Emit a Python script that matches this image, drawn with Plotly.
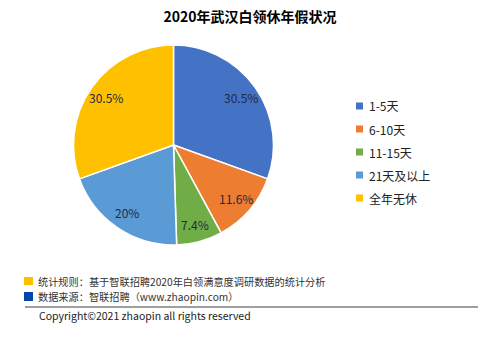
import math
import plotly.graph_objects as go

categories = ["1-5天", "6-10天", "11-15天", "21天及以上", "全年无休"]
values = [30.5, 11.6, 7.4, 20, 30.5]
value_labels = ["30.5%", "11.6%", "7.4%", "20%", "30.5%"]
colors = ["#4472C4", "#ED7D31", "#70AD47", "#5B9BD5", "#FFC000"]

title_text = "2020年武汉白领休年假状况"
note_rule = "统计规则：基于智联招聘2020年白领满意度调研数据的统计分析"
note_source = "数据来源：智联招聘（www.zhaopin.com）"
copyright_text = "Copyright©2021 zhaopin all rights reserved"

W, H = 500, 353
FONT = "Noto Sans CJK SC"

def px(x):
    return x / W

def py(y):
    return 1 - y / H

cx, cy, r = 173.5, 145, 100

fig = go.Figure()
fig.add_trace(go.Pie(
    labels=categories,
    values=values,
    textinfo="none",
    sort=False,
    direction="clockwise",
    rotation=0,
    marker=dict(colors=colors, line=dict(color="white", width=1.5)),
    domain=dict(x=[px(cx - r), px(cx + r)], y=[py(cy + r), py(cy - r)]),
    hoverinfo="label+percent",
    showlegend=False,
))

shapes = []
annotations = []

# slice value labels, placed along each slice's mid-angle
total = sum(values)
cum = 0.0
for v, lab in zip(values, value_labels):
    mid = (cum + v / 2) / total * 2 * math.pi
    cum += v
    rr = 0.82 * r
    lx = cx + rr * math.sin(mid)
    ly = cy - rr * math.cos(mid)
    annotations.append(dict(text=lab, x=px(lx), y=py(ly), xref="paper", yref="paper",
                            xanchor="center", yanchor="middle", showarrow=False,
                            font=dict(family=FONT, size=12, color="#1f2a44")))

# legend
leg_x, leg_y0, leg_dy = 356, 106, 23
for i, (c, lab) in enumerate(zip(colors, categories)):
    yy = leg_y0 + i * leg_dy
    shapes.append(dict(type="rect", xref="paper", yref="paper",
                       x0=px(leg_x), x1=px(leg_x + 7), y0=py(yy + 3.5), y1=py(yy - 3.5),
                       fillcolor=c, line=dict(width=0)))
    annotations.append(dict(text=lab, x=px(leg_x + 11), y=py(yy), xref="paper", yref="paper",
                            xanchor="left", yanchor="middle", showarrow=False,
                            font=dict(family=FONT, size=12, color="#222222")))

# footer
shapes += [
    dict(type="rect", xref="paper", yref="paper",
         x0=px(24), x1=px(33), y0=py(285), y1=py(277),
         fillcolor="#FFC000", line=dict(width=0)),
    dict(type="rect", xref="paper", yref="paper",
         x0=px(24), x1=px(33), y0=py(301), y1=py(292),
         fillcolor="#0047AB", line=dict(width=0)),
    dict(type="line", xref="paper", yref="paper",
         x0=px(25), x1=px(478), y0=py(307), y1=py(307),
         line=dict(color="#7f7f7f", width=1.5)),
]

annotations += [
    dict(text=note_rule, x=px(36), y=py(281), xref="paper", yref="paper",
         xanchor="left", yanchor="middle", showarrow=False,
         font=dict(family=FONT, size=10.2, color="#333333")),
    dict(text=note_source, x=px(36), y=py(296), xref="paper", yref="paper",
         xanchor="left", yanchor="middle", showarrow=False,
         font=dict(family=FONT, size=10.2, color="#333333")),
    dict(text=copyright_text, x=px(37), y=py(315), xref="paper", yref="paper",
         xanchor="left", yanchor="middle", showarrow=False,
         font=dict(family=FONT, size=10.5, color="#222222")),
]

fig.update_layout(
    width=W, height=H,
    margin=dict(l=0, r=0, t=0, b=0),
    paper_bgcolor="white",
    plot_bgcolor="white",
    title=dict(text="<b>" + title_text + "</b>", x=0.5, xanchor="center",
               y=py(17), yanchor="middle",
               font=dict(family=FONT, size=14, color="#000000")),
    showlegend=False,
    shapes=shapes,
    annotations=annotations,
)

fig.write_html("out.html")
